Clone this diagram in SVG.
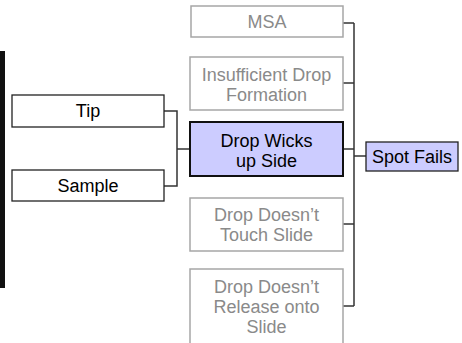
<svg xmlns="http://www.w3.org/2000/svg" width="462" height="343" viewBox="0 0 462 343">
<style>
text{font-family:"Liberation Sans",Arial,sans-serif;font-size:18px;text-anchor:middle}
.w{fill:#fff;stroke:#222;stroke-width:1.3}
.g{fill:#fff;stroke:#a6a6a6;stroke-width:1.5}
.b{fill:#ccccff;stroke:#111;stroke-width:2}
.gt{fill:#8a8a8a}
.bt{fill:#000}
.c{fill:none;stroke:#333;stroke-width:1.5}
</style>
<rect x="0" y="51" width="5" height="237" fill="#111"/>
<g id="connectors">
<polyline class="c" points="164,111 177,111 177,186 164,186"/>
<line class="c" x1="177" y1="149" x2="190" y2="149"/>
<line class="c" x1="343" y1="23" x2="354" y2="23"/>
<line class="c" x1="343" y1="83" x2="354" y2="83"/>
<line class="c" x1="343" y1="149" x2="354" y2="149"/>
<line class="c" x1="343" y1="224" x2="354" y2="224"/>
<line class="c" x1="343" y1="306" x2="354" y2="306"/>
<line class="c" x1="354" y1="23" x2="354" y2="306"/>
<line class="c" x1="354" y1="156" x2="366" y2="156"/>
</g>
<g id="tip"><rect class="w" x="12" y="95" width="152" height="32"/><text class="bt" x="88" y="117">Tip</text></g>
<g id="sample"><rect class="w" x="12" y="170" width="152" height="31"/><text class="bt" x="88" y="191.5">Sample</text></g>
<g id="msa"><rect class="g" x="191" y="6" width="152" height="31"/><text class="gt" x="267" y="28">MSA</text></g>
<g id="insufficient"><rect class="g" x="190" y="57" width="153" height="53"/><text class="gt" x="266.5" y="81">Insufficient Drop</text><text class="gt" x="266.5" y="101">Formation</text></g>
<g id="wicks"><rect class="b" x="190" y="122" width="153" height="54"/><text class="bt" x="266.5" y="147">Drop Wicks</text><text class="bt" x="266.5" y="167">up Side</text></g>
<g id="touch"><rect class="g" x="190" y="198" width="153" height="53"/><text class="gt" x="266.5" y="221">Drop Doesn’t</text><text class="gt" x="266.5" y="241">Touch Slide</text></g>
<g id="release"><rect class="g" x="190" y="269" width="153" height="90"/><text class="gt" x="266.5" y="293">Drop Doesn’t</text><text class="gt" x="266.5" y="313">Release onto</text><text class="gt" x="266.5" y="333">Slide</text></g>
<g id="spot"><rect class="b" x="366" y="142" width="92" height="29" style="stroke-width:1.3;stroke:#222"/><text class="bt" x="412" y="163">Spot Fails</text></g>
</svg>
